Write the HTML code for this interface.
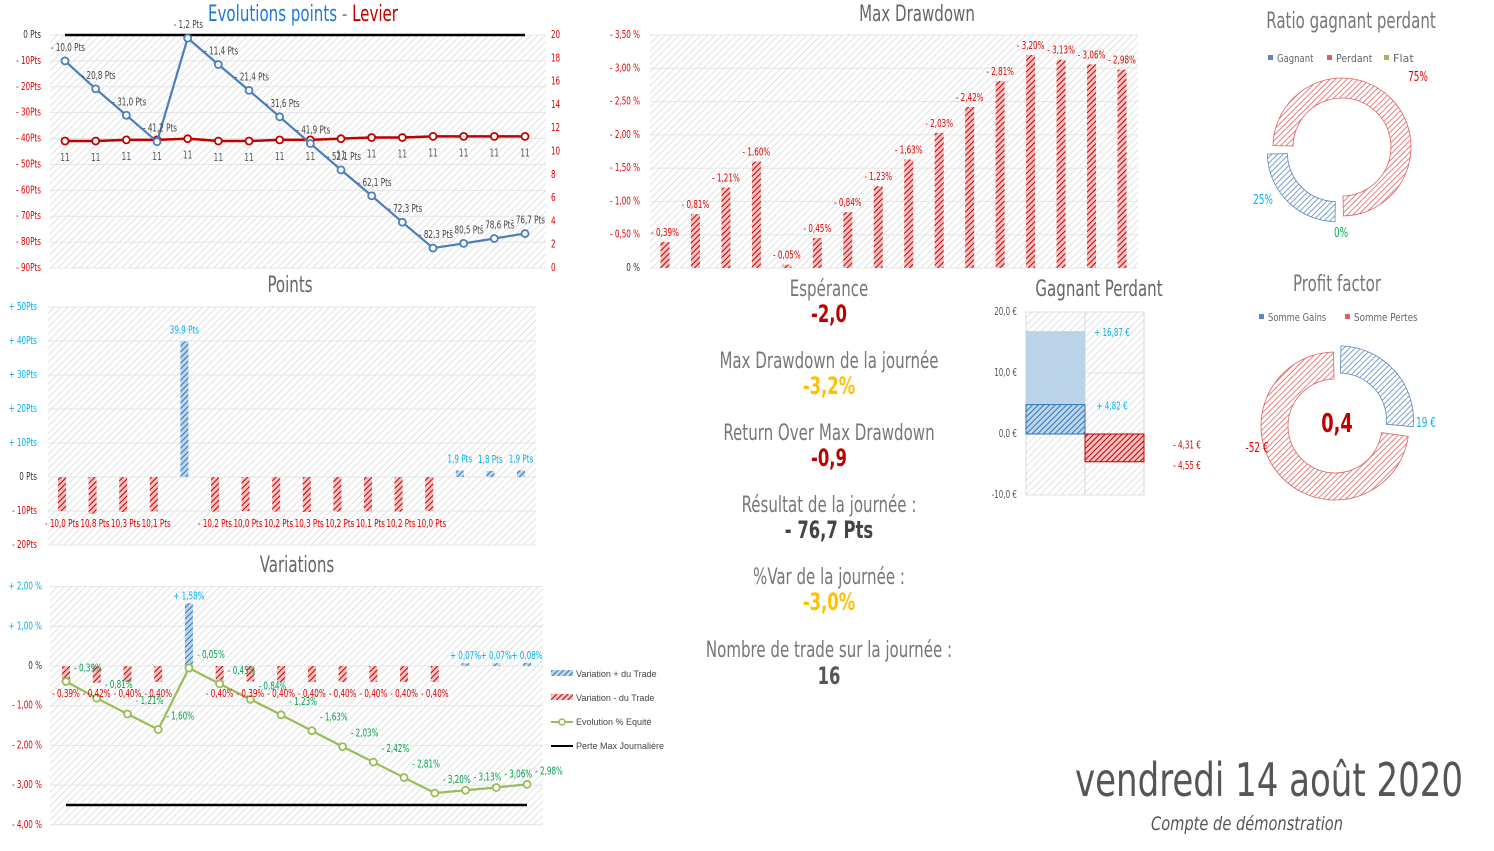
<!DOCTYPE html>
<html><head><meta charset="utf-8"><style>
html,body{margin:0;padding:0;background:#fff;}
svg{display:block;font-family:"Liberation Sans Narrow","DejaVu Sans Condensed","Liberation Sans",sans-serif;}
</style></head><body>
<svg id="s" width="1494" height="851" viewBox="0 0 1494 851" xmlns="http://www.w3.org/2000/svg">
<defs>
<pattern id="bg" width="5" height="5" patternUnits="userSpaceOnUse" patternTransform="rotate(45)"><rect width="5" height="5" fill="#fff"/><line x1="0" y1="0" x2="0" y2="5" stroke="#d8d8d8" stroke-width="1.5"/></pattern>
<pattern id="hr" width="4" height="4" patternUnits="userSpaceOnUse" patternTransform="rotate(45)"><rect width="4" height="4" fill="#f6c0c0"/><line x1="0" y1="0" x2="0" y2="4" stroke="#c00000" stroke-width="2"/></pattern>
<pattern id="hb" width="4" height="4" patternUnits="userSpaceOnUse" patternTransform="rotate(45)"><rect width="4" height="4" fill="#bcd6ee"/><line x1="0" y1="0" x2="0" y2="4" stroke="#2e75b6" stroke-width="2"/></pattern>
<pattern id="hr2" width="4" height="4" patternUnits="userSpaceOnUse" patternTransform="rotate(45)"><rect width="4" height="4" fill="#fff"/><line x1="0" y1="0" x2="0" y2="4" stroke="#e06060" stroke-width="1.6"/></pattern>
<pattern id="hb2" width="4" height="4" patternUnits="userSpaceOnUse" patternTransform="rotate(45)"><rect width="4" height="4" fill="#fff"/><line x1="0" y1="0" x2="0" y2="4" stroke="#5b86c0" stroke-width="1.6"/></pattern>
</defs>
<text x="208" y="21" font-size="22" textLength="190" lengthAdjust="spacingAndGlyphs"><tspan fill="#1f7ad6">Evolutions points</tspan><tspan fill="#888"> - </tspan><tspan fill="#c00000">Levier</tspan></text>
<g id="root"></g>
</svg>
<script>
// ---- data ----
const trades = [1,2,3,4,5,6,7,8,9,10,11,12,13,14,15,16];
const cumPts = [-10.0,-20.8,-31.0,-41.2,-1.2,-11.4,-21.4,-31.6,-41.9,-52.1,-62.1,-72.3,-82.3,-80.5,-78.6,-76.7];
const levier = [10.9,10.9,11.0,11.0,11.1,10.9,10.9,11.0,11.0,11.1,11.2,11.2,11.3,11.3,11.3,11.3];
const ptsTrade = [-10.0,-10.8,-10.3,-10.1,39.9,-10.2,-10.0,-10.2,-10.3,-10.2,-10.1,-10.2,-10.0,1.9,1.8,1.9];
const varTrade = [-0.39,-0.42,-0.40,-0.40,1.58,-0.40,-0.39,-0.40,-0.40,-0.40,-0.40,-0.40,-0.40,0.07,0.07,0.08];
const equity = [-0.39,-0.81,-1.21,-1.60,-0.05,-0.45,-0.84,-1.23,-1.63,-2.03,-2.42,-2.81,-3.20,-3.13,-3.06,-2.98];
const drawdown = [0.39,0.81,1.21,1.60,0.05,0.45,0.84,1.23,1.63,2.03,2.42,2.81,3.20,3.13,3.06,2.98];
const ptsTicks = [0,-10,-20,-30,-40,-50,-60,-70,-80,-90];
const levTicks = [0,2,4,6,8,10,12,14,16,18,20];
const pts2Ticks = [50,40,30,20,10,0,-10,-20];
const varTicks = [2,1,0,-1,-2,-3,-4];
const ddTicks = [0,0.5,1,1.5,2,2.5,3,3.5];
const gpTicks = [20,10,0,-10];
const gainMax = [16.87], gainAvg = [4.82], lossAvg = [-4.31], lossMax = [-4.55];
const ratioVals = [25,75,0];
const pfVals = [19,52];

const NS="http://www.w3.org/2000/svg";
const root=document.getElementById('root');
function el(tag,attrs,parent){const e=document.createElementNS(NS,tag);for(const k in attrs)e.setAttribute(k,attrs[k]);(parent||root).appendChild(e);return e;}
function txt(x,y,s,size,fill,anchor,extra){const t=el('text',Object.assign({x:x,y:y,'font-size':size,fill:fill,'text-anchor':anchor||'start'},extra||{}));t.textContent=s;
 if(!(extra&&extra.textLength)){const L=t.getComputedTextLength();if(L>0){t.setAttribute('textLength',(L*0.76).toFixed(1));t.setAttribute('lengthAdjust','spacingAndGlyphs');}}
 return t;}
const fr=(v,d)=>Math.abs(v).toFixed(d).replace('.',',');
function xs(i,x0,x1){return x0+(x1-x0)*i/(trades.length-1);}

// ===== Chart 1: Evolutions points =====
(function(){
 const g=el('g',{});  
 const y=v=>35+(-v)/90*233, yr=v=>268-v/20*233, x=i=>xs(i,65,525);
 el('rect',{x:50,y:35,width:496,height:233,fill:'url(#bg)'},g);
 ptsTicks.forEach(v=>{el('line',{x1:50,x2:546,y1:y(v),y2:y(v),stroke:'#e4e4e4'},g);
  const t=txt(41,y(v)+3,v===0?'0 Pts':'- '+(-v)+'Pts',10.5,v===0?'#333':'#e00000','end',{}); });
 levTicks.forEach(v=>{const t=txt(551,yr(v)+3,String(v),10.5,'#e00000'); });
 const lim=el('line',{x1:65,x2:525,y1:y(0),y2:y(0),stroke:'#000','stroke-width':2.5},g); 
 const lp=el('polyline',{points:levier.map((v,i)=>x(i)+','+yr(v)).join(' '),fill:'none',stroke:'#c00000','stroke-width':2.5},g);
 
 levier.forEach((v,i)=>{const c=el('circle',{cx:x(i),cy:yr(v),r:3.5,fill:'#fff',stroke:'#c00000','stroke-width':1.8},g);
  txt(x(i),yr(v)+20,'11',11,'#555','middle');});
 const bp=el('polyline',{points:cumPts.map((v,i)=>x(i)+','+y(v)).join(' '),fill:'none',stroke:'#4a7ebb','stroke-width':2.2,'stroke-linejoin':'round'},g);
 
 cumPts.forEach((v,i)=>{const c=el('circle',{cx:x(i),cy:y(v),r:3.5,fill:'#fff',stroke:'#4a7ebb','stroke-width':1.8},g);
  const t=txt(x(i)-14,y(v)-10,'- '+fr(v,1)+' Pts',10.5,'#444','start');});
})();

// ===== Chart 2: Points =====
(function(){
 const g=el('g',{});  
 const y=v=>477-v*3.4, x=i=>xs(i,62,521);
 el('rect',{x:48,y:307,width:488,height:238,fill:'url(#bg)'},g);
 pts2Ticks.forEach(v=>{el('line',{x1:48,x2:536,y1:y(v),y2:y(v),stroke:'#e4e4e4'},g);
  const lab=v===0?'0 Pts':(v>0?'+ '+v+'Pts':'- '+(-v)+'Pts');
  txt(37,y(v)+3,lab,10.5,v>0?'#00b0f0':(v<0?'#e00000':'#333'),'end');});
 ptsTrade.forEach((v,i)=>{const pos=v>=0;const r=el('rect',{x:x(i)-4,y:Math.min(y(v),y(0)),width:8,height:Math.abs(y(v)-y(0)),fill:pos?'url(#hb)':'url(#hr)'},g);
  
  const lab=(pos?'':'- ')+fr(v,1)+' Pts';
  txt(x(i),pos?y(v)-8:y(0)+50,lab,10.5,pos?'#00b0f0':'#e00000','middle');});
 const t=txt(290,292,'Points',22,'#666','middle');
})();

// ===== Chart 3: Variations =====
(function(){
 const g=el('g',{});  
 const y=v=>666-v*39.7, x=i=>xs(i,66,527);
 el('rect',{x:50,y:587,width:493,height:238,fill:'url(#bg)'},g);
 varTicks.forEach(v=>{el('line',{x1:50,x2:543,y1:y(v),y2:y(v),stroke:'#e4e4e4'},g);
  const lab=v===0?'0 %':(v>0?'+ ':'- ')+fr(v,2)+' %';
  txt(42,y(v)+3,lab,10.5,v>0?'#00b0f0':(v<0?'#e00000':'#333'),'end');});
 varTrade.forEach((v,i)=>{const pos=v>=0;const r=el('rect',{x:x(i)-4,y:Math.min(y(v),y(0)),width:8,height:Math.max(2,Math.abs(y(v)-y(0))),fill:pos?'url(#hb)':'url(#hr)'},g);
  
  txt(x(i),pos?y(v)-4:y(0)+31,(pos?'+ ':'- ')+fr(v,2)+'%',10.5,pos?'#00b0f0':'#e00000','middle');});
 const ml=el('line',{x1:66,x2:527,y1:y(-3.5),y2:y(-3.5),stroke:'#000','stroke-width':2.5},g);
 const ep=el('polyline',{points:equity.map((v,i)=>x(i)+','+y(v)).join(' '),fill:'none',stroke:'#9bbb59','stroke-width':2.2,'stroke-linejoin':'round'},g);
 
 equity.forEach((v,i)=>{const c=el('circle',{cx:x(i),cy:y(v),r:3.5,fill:'#fff',stroke:'#9bbb59','stroke-width':1.8},g);
  txt(x(i)+22,y(v)-10,'- '+fr(v,2)+'%',10.5,'#00a050','middle');});
 const t=txt(297,572,'Variations',22,'#666','middle');
 const L=[['Variation + du Trade','url(#hb)','bar'],['Variation - du Trade','url(#hr)','bar'],['Evolution % Equité','#9bbb59','mk'],['Perte Max Journalière','#000','line']];
 L.forEach((l,k)=>{const yy=674+k*24;const lg=el('g',{},g);
  if(l[2]==='bar')el('rect',{x:551,y:yy-4,width:22,height:6,fill:l[1]},lg);
  else{el('line',{x1:551,x2:573,y1:yy,y2:yy,stroke:l[1],'stroke-width':2},lg);if(l[2]==='mk')el('circle',{cx:562,cy:yy,r:3,fill:'#fff',stroke:l[1],'stroke-width':1.5},lg);}
  const t=el('text',{x:576,y:yy+3,'font-size':9,fill:'#444','font-family':'Liberation Sans, sans-serif'},lg);t.textContent=l[0];});
})();

// ===== Max Drawdown =====
(function(){
 const g=el('g',{});  
 const y=v=>268-v/3.5*233, x=i=>xs(i,665,1122);
 el('rect',{x:650,y:35,width:488,height:233,fill:'url(#bg)'},g);
 ddTicks.forEach(v=>{el('line',{x1:650,x2:1138,y1:y(v),y2:y(v),stroke:'#e4e4e4'},g);
  txt(640,y(v)+3,v===0?'0 %':'- '+fr(v,2)+' %',10.5,v===0?'#333':'#e00000','end');});
 drawdown.forEach((v,i)=>{const r=el('rect',{x:x(i)-4.5,y:y(v),width:9,height:y(0)-y(v),fill:'url(#hr)'},g);
  
  txt(x(i),y(v)-6,'- '+fr(v,2)+'%',10.5,'#e00000','middle');});
 const t=txt(917,21,'Max Drawdown',22,'#666','middle');
})();

// ===== Stats text =====
(function(){
 const S=[['Espérance',296,'-2,0','#c00000',322],['Max Drawdown de la journée',368,'-3,2%','#ffc000',394],['Return Over Max Drawdown',440,'-0,9','#c00000',466],['Résultat de la journée :',512,'- 76,7 Pts','#444',538],['%Var de la journée :',584,'-3,0%','#ffc000',610],['Nombre de trade sur la journée :',657,'16','#555',684]];
 S.forEach(s=>{const a=txt(829,s[1],s[0],22,'#777','middle');
  const b=txt(829,s[4],s[2],24,s[3],'middle',{'font-weight':'bold'});});
})();

// ===== Gagnant Perdant =====
(function(){
 const g=el('g',{});  
 const y=v=>434-v*6.1;
 el('rect',{x:1026,y:312,width:118,height:183,fill:'url(#bg)',stroke:'#d9d9d9'},g);
 gpTicks.forEach(v=>{el('line',{x1:1026,x2:1144,y1:y(v),y2:y(v),stroke:'#e0e0e0'},g);
  txt(1017,y(v)+3,(v<0?'-':'')+fr(v,1)+' €',10.5,'#555','end');});
 el('line',{x1:1085,x2:1085,y1:312,y2:495,stroke:'#d9d9d9'},g);
 const b1=el('rect',{x:1026,y:y(gainMax[0]),width:59,height:y(0)-y(gainMax[0]),fill:'#b4cfe8',opacity:0.9},g);
 const b2=el('rect',{x:1026,y:y(gainAvg[0]),width:59,height:y(0)-y(gainAvg[0]),fill:'url(#hb)',stroke:'#2e75b6'},g);
 const b3=el('rect',{x:1085,y:y(0),width:59,height:y(lossMax[0])-y(0),fill:'url(#hr)',stroke:'#c00000'},g);
 txt(1112,y(gainMax[0])+5,'+ '+fr(gainMax[0],2)+' €',10.5,'#00b0f0','middle');
 txt(1112,y(gainAvg[0])+5,'+ '+fr(gainAvg[0],2)+' €',10.5,'#00b0f0','middle');
 txt(1187,y(lossAvg[0])-12,'- '+fr(lossAvg[0],2)+' €',10.5,'#e00000','middle');
 txt(1187,y(lossMax[0])+7,'- '+fr(lossMax[0],2)+' €',10.5,'#e00000','middle');
 const t=txt(1099,296,'Gagnant Perdant',22,'#666','middle');
})();

// ===== donut helper =====
function arc(cx,cy,r0,r1,a0,a1){const p=(r,a)=>[cx+r*Math.sin(a),cy-r*Math.cos(a)];const L=(a1-a0)>Math.PI?1:0;
 const [x0,y0]=p(r1,a0),[x1,y1]=p(r1,a1),[x2,y2]=p(r0,a1),[x3,y3]=p(r0,a0);
 return `M${x0},${y0}A${r1},${r1} 0 ${L} 1 ${x1},${y1}L${x2},${y2}A${r0},${r0} 0 ${L} 0 ${x3},${y3}Z`;}

// ===== Ratio gagnant perdant =====
(function(){
 const g=el('g',{});  
 const tot=ratioVals.reduce((a,b)=>a+b,0); const cx=1342,cy=147;
 const fills=['url(#hb2)','url(#hr2)','#9bbb59'], strokes=['#5b86c0','#e06060','#9bbb59'];
 let a=Math.PI;
 ratioVals.forEach((v,i)=>{if(v<=0)return;const a1=a+2*Math.PI*v/tot;const mid=(a+a1)/2;const off=i===0?8:0;
  const p=el('path',{d:arc(cx+off*Math.sin(mid),cy-off*Math.cos(mid),49,69,a+0.02,a1-0.02),fill:fills[i],stroke:strokes[i],'stroke-width':0.8},g);
  a=a1;});
 txt(1263,204,ratioVals[0]+'%',13,'#00b0f0','middle');txt(1418,81,ratioVals[1]+'%',13,'#e00000','middle');txt(1341,237,ratioVals[2]+'%',13,'#00b050','middle');
 const t=txt(1351,28,'Ratio gagnant perdant',22,'#777','middle');
 [['Gagnant','#5b86c0',1268],['Perdant','#e06060',1327],['Flat','#9bbb59',1384]].forEach(l=>{const lg=el('g',{},g);
  el('rect',{x:l[2],y:55,width:5,height:5,fill:l[1]},lg);const t=el('text',{x:l[2]+9,y:62,'font-size':11,fill:'#666',textLength:l[0].length*5.2,lengthAdjust:'spacingAndGlyphs'},lg);t.textContent=l[0];});
})();

// ===== Profit factor =====
(function(){
 const g=el('g',{});  
 const tot=pfVals[0]+pfVals[1]; const cx=1335,cy=424;
 const a0=0,a1=2*Math.PI*pfVals[0]/tot;
 const m=(a0+a1)/2;
 const p1=el('path',{d:arc(cx+6*Math.sin(m),cy-6*Math.cos(m),47,74,a0+0.02,a1-0.02),fill:'url(#hb2)',stroke:'#5b86c0','stroke-width':0.8},g);
 const p2=el('path',{d:arc(cx,cy+2,47,74,a1+0.03,2*Math.PI-0.02),fill:'url(#hr2)',stroke:'#e06060','stroke-width':0.8},g);
 txt(1426,427,pfVals[0]+' €',13,'#00b0f0','middle');txt(1257,452,'-'+pfVals[1]+' €',13,'#e00000','middle');
 const v=txt(1337,432,(pfVals[0]/pfVals[1]).toFixed(1).replace('.',','),26,'#c00000','middle',{'font-weight':'bold'});
 const t=txt(1337,291,'Profit factor',22,'#777','middle');
 [['Somme Gains','#5b86c0',1259],['Somme Pertes','#e06060',1345]].forEach(l=>{const lg=el('g',{},g);
  el('rect',{x:l[2],y:314,width:5,height:5,fill:l[1]},lg);const t=el('text',{x:l[2]+9,y:321,'font-size':11,fill:'#666',textLength:l[0].length*5.3,lengthAdjust:'spacingAndGlyphs'},lg);t.textContent=l[0];});
})();

// ===== Date =====
(function(){
 const d=txt(1075,796,'vendredi 14 août 2020',46,'#555','start',{textLength:388,lengthAdjust:'spacingAndGlyphs'});
 const a=txt(1151,830,'Compte de démonstration',19,'#555','start',{'font-style':'italic',textLength:192,lengthAdjust:'spacingAndGlyphs'});
})();
</script>
</body></html>
